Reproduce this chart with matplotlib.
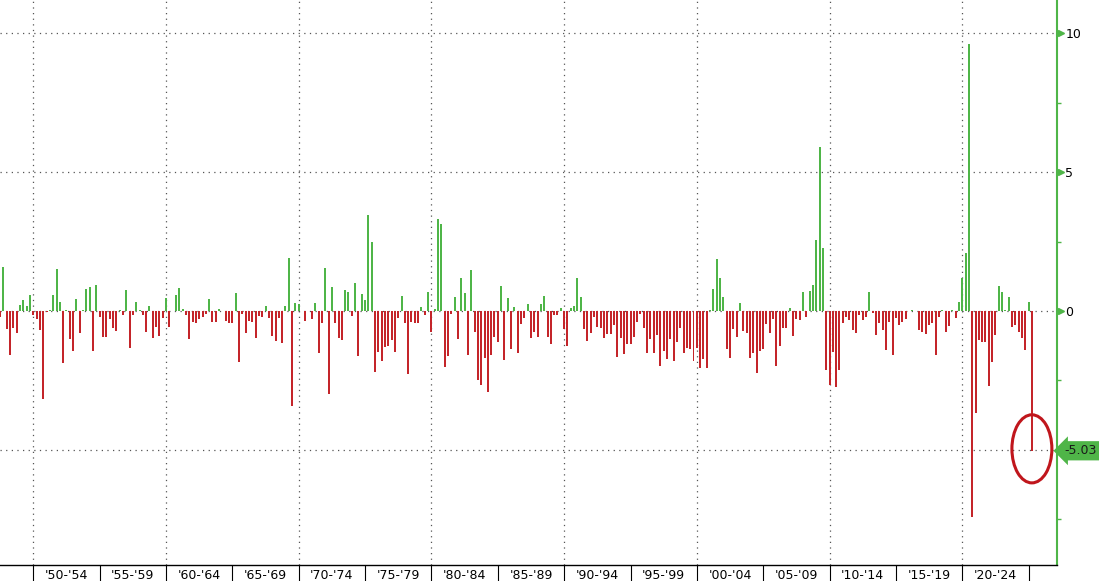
import datetime as dt
import numpy as np
import pandas as pd
import matplotlib
matplotlib.use('Agg')
import matplotlib.pyplot as plt
import matplotlib.transforms as mtransforms
from matplotlib.patches import Ellipse

# --- Data: contribution of imports to real GDP growth, quarterly (1947Q2 - 2025Q1) ---
first_quarter = '1947Q2'
last_quarter = '2025Q1'

values_1947_1959 = [
    -0.2, 1.6, -0.66, -1.6, -0.6, -0.78, 0.2, 0.4, 0.18, 0.56,
    -0.15, -0.3, -0.68, -3.15, -0.05, 0.03, 0.56, 1.5, 0.33, -1.86,
    0.05, -1.0, -1.45, 0.42, -0.8, 0.05, 0.8, 0.86, -1.44, 0.94,
    -0.2, -0.92, -0.92, -0.3, -0.6, -0.72, 0.05, -0.15, 0.74, -1.32,
    -0.14, 0.32, 0.02, -0.15, -0.74, 0.18, -0.96, -0.58, -0.9, -0.24,
]
values_1960_1969 = [
    0.48, -0.56, 0.0, 0.56, 0.84, 0.08, -0.15, -1.0, -0.4, -0.42,
    -0.3, -0.2, -0.12, 0.42, -0.4, -0.4, 0.08, 0.0, -0.36, -0.42,
    -0.42, 0.66, -1.83, -0.12, -0.78, -0.36, -0.4, -0.96, -0.18, -0.2,
    0.18, -0.24, -0.9, -1.08, -0.24, -1.14, 0.18, 1.92, -3.42, 0.3,
]
values_1970_1979 = [
    0.24, 0.0, -0.36, 0.0, -0.3, 0.3, -1.5, -0.42, 1.56, -3.0,
    0.86, -0.42, -0.98, -1.05, 0.76, 0.7, -0.18, 1.0, -1.62, 0.62,
    0.38, 3.45, 2.5, -2.2, -1.48, -1.8, -1.28, -1.26, -1.04, -1.48,
    -0.25, 0.54, -0.42, -2.27, -0.38, -0.42, -0.42, 0.13, -0.14, 0.7,
]
values_1980_1989 = [
    -0.74, 0.08, 3.3, 3.12, -2.0, -1.62, -0.1, 0.52, -1.02, 1.2,
    0.66, -1.6, 1.47, -0.74, -2.48, -2.66, -1.7, -2.9, -1.58, -0.95,
    -1.1, 0.9, -1.78, 0.46, -1.38, 0.16, -1.52, -0.47, -0.26, 0.25,
    -0.98, -0.77, -0.92, 0.24, 0.54, -0.92, -1.19, -0.14, -0.14, 0.1,
]
values_1990_1999 = [
    -0.66, -1.25, 0.12, 0.18, 1.2, 0.52, -0.66, -1.07, -0.8, -0.2,
    -0.59, -0.6, -0.96, -0.84, -0.84, -0.5, -1.65, -0.96, -1.56, -1.2,
    -1.2, -0.94, -0.4, -0.12, -0.6, -1.5, -1.02, -1.5, -0.86, -1.98,
    -1.44, -1.74, -1.02, -1.8, -1.1, -0.6, -1.5, -1.32, -1.38, -1.8,
]
values_2000_2009 = [
    -1.32, -2.04, -1.74, -2.04, 0.05, 0.78, 1.86, 1.2, 0.5, -1.38,
    -1.68, -0.66, -0.94, 0.3, -0.72, -0.78, -1.68, -1.5, -2.22, -1.44,
    -1.36, -0.48, -0.78, -0.3, -1.98, -1.26, -0.6, -0.6, 0.12, -0.9,
    -0.3, -0.33, 0.67, -0.2, 0.72, 0.94, 2.55, 5.9, 2.25, -2.12,
]
values_2010_2019 = [
    -2.66, -1.46, -2.72, -2.12, -0.44, -0.2, -0.32, -0.68, -0.8, -0.15,
    -0.32, -0.2, 0.67, -0.08, -0.86, -0.44, -0.68, -1.4, -0.38, -1.58,
    -0.26, -0.5, -0.38, -0.3, 0.0, 0.05, 0.0, -0.68, -0.74, -0.83,
    -0.5, -0.42, -1.58, -0.2, 0.02, -0.74, -0.54, 0.05, -0.26, 0.34,
]
values_2020_2025 = [
    1.18, 2.07, 9.6, -7.4, -3.68, -1.04, -1.1, -1.1, -2.7, -1.82,
    -0.86, 0.9, 0.7, 0.02, 0.52, -0.56, -0.5, -0.74, -0.98, -1.4,
    0.34, -5.03,
]

block_starts = list(range(1950, 2021, 5))
block_labels = ["'%02d-'%02d" % (y % 100, (y + 4) % 100) for y in block_starts]
y_tick_values = [0, 5, 10]

values = (values_1947_1959 + values_1960_1969 + values_1970_1979 + values_1980_1989
          + values_1990_1999 + values_2000_2009 + values_2010_2019 + values_2020_2025)
quarters = pd.period_range(first_quarter, last_quarter, freq='Q')
assert len(quarters) == len(values)

# bars are stamped at the end of each quarter
dates = (quarters + 1).start_time.to_pydatetime()
vals = np.array(values)

GREEN = '#4fb548'
RED = '#c4252a'
colors = [GREEN if v >= 0 else RED for v in vals]

fig = plt.figure(figsize=(10.99, 5.81), dpi=100)
ax = fig.add_axes([0, 16 / 581, 1057 / 1099, 565 / 581])

ax.bar(dates, vals, width=55, color=colors, linewidth=0, zorder=3)

# --- grid ---
for y in [-5, 0, 5, 10]:
    ax.axhline(y, color='#555555', lw=0.9, ls=(0, (1, 3.5)), zorder=1)
for yr in range(1950, 2030, 10):
    ax.axvline(dt.datetime(yr, 1, 1), color='#555555', lw=0.9, ls=(0, (1, 3.5)), zorder=1)

ax.set_xlim(dt.datetime(1947, 6, 28), dt.datetime(2027, 2, 21))
ax.set_ylim(-9.14, 11.19)

# --- spines ---
for side in ['top', 'left']:
    ax.spines[side].set_visible(False)
ax.spines['bottom'].set_color('black')
ax.spines['bottom'].set_linewidth(1.0)
ax.spines['right'].set_color(GREEN)
ax.spines['right'].set_linewidth(1.5)

# --- x axis: 5-year blocks ---
ax.set_xticks([dt.datetime(y, 7, 2) for y in [s + 2 for s in block_starts]])
ax.set_xticklabels(block_labels)
ax.set_xticks([dt.datetime(y, 1, 1) for y in block_starts + [2025]], minor=True)
ax.tick_params(axis='x', which='major', length=0, pad=3, labelsize=9)
ax.tick_params(axis='x', which='minor', length=11.5, width=0.8, color='black', direction='out')

# --- y axis on the right ---
ax.yaxis.tick_right()
ax.set_yticks(y_tick_values)
ax.set_yticklabels([str(v) for v in y_tick_values])
ax.set_yticks([-7.5, -5, -2.5, 2.5, 7.5], minor=True)
ax.tick_params(axis='y', which='major', length=0, pad=6, labelsize=9)
ax.tick_params(axis='y', which='minor', length=3, width=1, color=GREEN, direction='out')

ytrans = mtransforms.blended_transform_factory(ax.transAxes, ax.transData)
ax.plot([1 + 3.5 / 1057] * len(y_tick_values), y_tick_values, ls='none', marker='>',
        ms=4.5, color=GREEN, transform=ytrans, clip_on=False, zorder=5)

# last value tag
ax.text(1 + 7 / 1057, vals[-1], '%.2f' % vals[-1], transform=ytrans, ha='left', va='center',
        fontsize=9, color='#1a1a1a',
        bbox=dict(boxstyle='larrow,pad=0.25', fc=GREEN, ec='none'), clip_on=False)

# circle the latest print
ell = Ellipse((matplotlib.dates.date2num(dates[-1]), vals[-1] + 0.07), width=1100, height=2.45,
              fill=False, ec='#c0161c', lw=2.2, zorder=6)
ax.add_patch(ell)

fig.savefig('out.png', dpi=100)
